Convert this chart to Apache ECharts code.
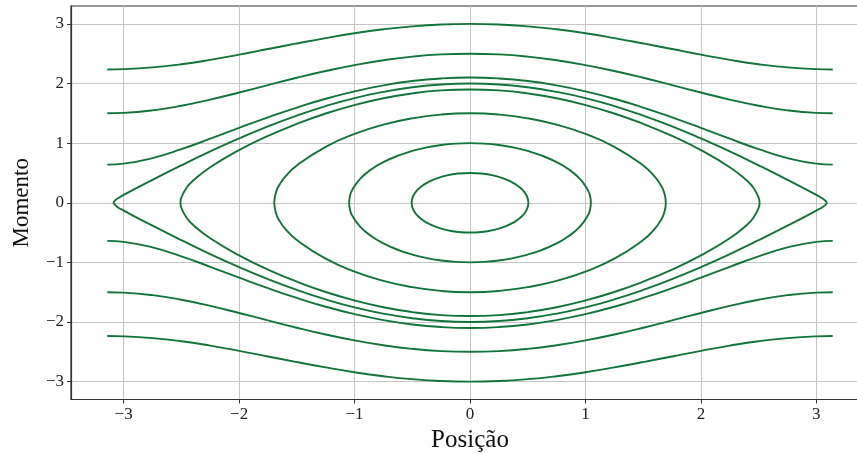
<!DOCTYPE html>
<html>
<head>
<meta charset="utf-8">
<script src="https://cdn.jsdelivr.net/npm/echarts@6/dist/echarts.min.js"></script>
<style>
  html, body { margin: 0; padding: 0; overflow: hidden; background: #fff; }
  #chart { width: 870px; height: 454px; }
</style>
</head>
<body>
<div id="chart"></div>
<script>
// tick labels
var xTicks = [-3, -2, -1, 0, 1, 2, 3];
var yTicks = [-3, -2, -1, 0, 1, 2, 3];

// open (rotating) orbits: upper branch, lower branch is its mirror
var openX = [-3.1416, -3, -2.75, -2.5, -2.25, -2, -1.75, -1.5, -1.25, -1, -0.75, -0.5, -0.25, 0,
             0.25, 0.5, 0.75, 1, 1.25, 1.5, 1.75, 2, 2.25, 2.5, 2.75, 3, 3.1416];
var open30 = [2.236, 2.241, 2.270, 2.323, 2.397, 2.484, 2.578, 2.672, 2.762, 2.843, 2.909, 2.959, 2.990, 3.0,
              2.990, 2.959, 2.909, 2.843, 2.762, 2.672, 2.578, 2.484, 2.397, 2.323, 2.270, 2.241, 2.236];
var open25 = [1.5, 1.507, 1.550, 1.627, 1.730, 1.849, 1.973, 2.096, 2.209, 2.309, 2.390, 2.451, 2.488, 2.5,
              2.488, 2.451, 2.390, 2.309, 2.209, 2.096, 1.973, 1.849, 1.730, 1.627, 1.550, 1.507, 1.5];
var open21 = [0.640, 0.656, 0.749, 0.899, 1.074, 1.256, 1.433, 1.597, 1.744, 1.868, 1.968, 2.041, 2.085, 2.1,
              2.085, 2.041, 1.968, 1.868, 1.744, 1.597, 1.433, 1.256, 1.074, 0.899, 0.749, 0.656, 0.640];

// closed (oscillating) orbits: upper half from left tip to right tip
var loop20X = [-3.09, -3.06, -3, -2.75, -2.5, -2.25, -2, -1.75, -1.5, -1.25, -1, -0.75, -0.5, -0.25, 0,
               0.25, 0.5, 0.75, 1, 1.25, 1.5, 1.75, 2, 2.25, 2.5, 2.75, 3, 3.06, 3.09];
var loop20Y = [0, 0.061, 0.131, 0.385, 0.628, 0.861, 1.079, 1.281, 1.462, 1.621, 1.755, 1.860, 1.937, 1.984, 1.999,
               1.984, 1.937, 1.860, 1.755, 1.621, 1.462, 1.281, 1.079, 0.861, 0.628, 0.385, 0.131, 0.061, 0];
var loop19X = [-2.508, -2.5, -2.45, -2.4, -2.25, -2, -1.75, -1.5, -1.25, -1, -0.75, -0.5, -0.25, 0,
               0.25, 0.5, 0.75, 1, 1.25, 1.5, 1.75, 2, 2.25, 2.4, 2.45, 2.5, 2.508];
var loop19Y = [0, 0.088, 0.265, 0.368, 0.595, 0.882, 1.120, 1.323, 1.497, 1.640, 1.753, 1.834, 1.884, 1.9,
               1.884, 1.834, 1.753, 1.640, 1.497, 1.323, 1.120, 0.882, 0.595, 0.368, 0.265, 0.088, 0];
var loop15X = [-1.696, -1.68, -1.65, -1.6, -1.5, -1.25, -1, -0.75, -0.5, -0.25, 0,
               0.25, 0.5, 0.75, 1, 1.25, 1.5, 1.6, 1.65, 1.68, 1.696];
var loop15Y = [0, 0.179, 0.303, 0.438, 0.626, 0.938, 1.154, 1.309, 1.416, 1.479, 1.5,
               1.479, 1.416, 1.309, 1.154, 0.938, 0.626, 0.438, 0.303, 0.179, 0];
var loop10X = [-1.047, -1.04, -1.02, -0.95, -0.85, -0.75, -0.625, -0.5, -0.375, -0.25, -0.125, 0,
               0.125, 0.25, 0.375, 0.5, 0.625, 0.75, 0.85, 0.95, 1.02, 1.04, 1.047];
var loop10Y = [0, 0.112, 0.216, 0.404, 0.566, 0.681, 0.789, 0.869, 0.928, 0.968, 0.992, 1.0,
               0.992, 0.968, 0.928, 0.869, 0.789, 0.681, 0.566, 0.404, 0.216, 0.112, 0];
var loop05X = [-0.5054, -0.5, -0.48, -0.45, -0.4, -0.35, -0.3, -0.2, -0.1, 0,
               0.1, 0.2, 0.3, 0.35, 0.4, 0.45, 0.48, 0.5, 0.5054];
var loop05Y = [0, 0.072, 0.155, 0.226, 0.304, 0.359, 0.401, 0.458, 0.490, 0.5,
               0.490, 0.458, 0.401, 0.359, 0.304, 0.226, 0.155, 0.072, 0];

var lineColor = '#10743c';

function openBranch(xs, ys, sign) {
  var out = [];
  for (var i = 0; i < xs.length; i++) out.push([xs[i], sign * ys[i]]);
  return out;
}
function closedLoop(xs, ys) {
  var out = [];
  for (var i = 0; i < xs.length; i++) out.push([xs[i], ys[i]]);
  for (var j = xs.length - 2; j >= 0; j--) out.push([xs[j], -ys[j]]);
  return out;
}
function curve(data) {
  return {
    type: 'line', data: data, smooth: 0.5, showSymbol: false, silent: true,
    lineStyle: { color: lineColor, width: 1.9 }
  };
}

var series = [];
[open30, open25, open21].forEach(function(ys) {
  series.push(curve(openBranch(openX, ys, 1)));
  series.push(curve(openBranch(openX, ys, -1)));
});
series.push(curve(closedLoop(loop20X, loop20Y)));
series.push(curve(closedLoop(loop19X, loop19Y)));
series.push(curve(closedLoop(loop15X, loop15Y)));
series.push(curve(closedLoop(loop10X, loop10Y)));
series.push(curve(closedLoop(loop05X, loop05Y)));

function fmt(v) { return String(v).replace('-', '\u2212'); }

var font = 'Liberation Serif';
var myChart = echarts.init(document.getElementById('chart'));
var option = {
  animation: false,
  grid: {
    left: 71, right: 1, top: 6, bottom: 54.5, outerBoundsMode: 'none',
    show: true, borderColor: '#333', borderWidth: 1.2, backgroundColor: 'transparent'
  },
  xAxis: {
    type: 'value', min: -3.456, max: 3.456,
    name: 'Posição', nameLocation: 'middle', nameGap: 27,
    nameTextStyle: { fontFamily: font, fontSize: 25, color: '#111', verticalAlign: 'top' },
    axisLine: { onZero: false, lineStyle: { color: '#333', width: 1.2 } },
    axisTick: { inside: false, length: 4, customValues: xTicks, lineStyle: { color: '#333' } },
    axisLabel: { customValues: xTicks, formatter: fmt, fontFamily: font, fontSize: 17, color: '#222', margin: 7 },
    splitLine: { show: true, lineStyle: { color: '#c4c4c4', width: 1 } }
  },
  yAxis: {
    type: 'value', min: -3.3, max: 3.3,
    name: 'Momento', nameLocation: 'middle', nameGap: 38,
    nameTextStyle: { fontFamily: font, fontSize: 23, color: '#111' },
    axisLine: { onZero: false, lineStyle: { color: '#333', width: 1.2 } },
    axisTick: { show: true, inside: false, length: 4, customValues: yTicks, lineStyle: { color: '#333' } },
    axisLabel: { customValues: yTicks, formatter: fmt, fontFamily: font, fontSize: 17, color: '#222', margin: 7 },
    splitLine: { show: true, lineStyle: { color: '#c4c4c4', width: 1 } }
  },
  series: series
};
myChart.setOption(option);
</script>
</body>
</html>
